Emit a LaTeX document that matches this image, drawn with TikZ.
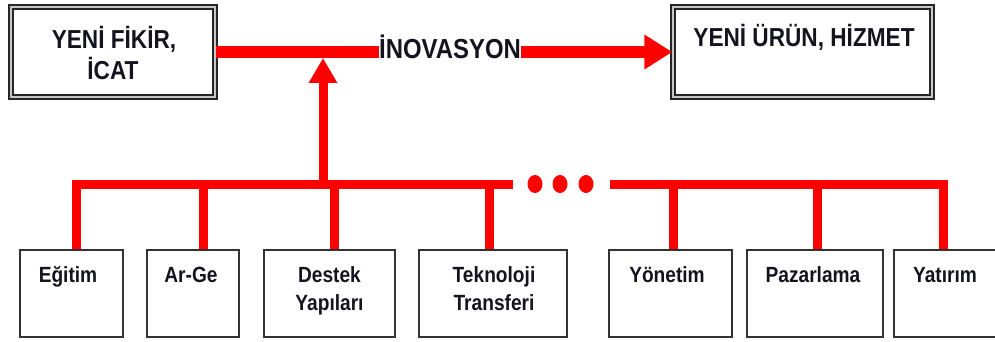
\documentclass[tikz,border=0pt]{standalone}
\usepackage{fontspec}
\setmainfont{Liberation Sans}
\newfontfamily\narrowsans[FakeStretch=0.87]{Liberation Sans}
\usetikzlibrary{arrows.meta}

\definecolor{flow}{RGB}{255,0,0}
\definecolor{ink}{RGB}{20,20,30}

\begin{document}
\begin{tikzpicture}[x=1pt,y=-1pt,
  framebox/.style={draw=black!85, line width=1.4pt, double=black!22,
    double distance=2.6pt, fill=white, inner sep=0pt,
    minimum height=90pt, minimum width=#1},
  itembox/.style={draw=black!80, line width=1.3pt, fill=white, inner sep=0pt,
    minimum height=87pt, minimum width=#1},
  headtext/.style={anchor=base, inner sep=0pt, text=ink,
    font=\narrowsans\bfseries\fontsize{26}{31}\selectfont},
  flowtext/.style={anchor=base, inner sep=0pt, text=ink,
    font=\narrowsans\bfseries\fontsize{27.5}{33}\selectfont},
  itemtext/.style={anchor=base, inner sep=0pt, text=ink,
    font=\narrowsans\bfseries\fontsize{22}{28}\selectfont},
  mainflow/.style={draw=flow, line width=12pt},
  bus/.style={draw=flow, line width=9pt, line join=miter},
]
\useasboundingbox (0,0) rectangle (995,342);
\clip (0,0) rectangle (995,342);
\fill[white] (0,0) rectangle (995,342);

% top: idea -> product
\node[framebox=204pt] (fikir) at (113,52) {};
\node[headtext] (fikir1) at (114,49) {YENİ FİKİR,};
\node[headtext] (fikir2) at (113,80) {İCAT};

\node[framebox=259pt] (urun) at (802.5,52) {};
\node[headtext] (urun1) at (804,47) {YENİ ÜRÜN, HİZMET};

\node[flowtext] (ino) at (450,58.5) {İNOVASYON};

\draw[mainflow] (fikir.east) -- (fikir.east -| ino.west);
\draw[mainflow, -{Triangle[length=28pt,width=33pt]}]
  (ino.east |- urun.west) -- (urun.west);

% bottom: contributing fields
\node[itembox=103pt] (egitim)  at (71.5,293.5) {};
\node[itembox=92pt]  (arge)    at (193,293.5)  {};
\node[itembox=131pt] (destek)  at (329.5,293.5) {};
\node[itembox=148pt] (tekno)   at (493,293.5)  {};
\node[itembox=123pt] (yonetim) at (670.5,293.5) {};
\node[itembox=136pt] (pazar)   at (815,293.5)  {};
\node[itembox=106pt] (yatirim) at (947,293.5)  {};

\node[itemtext] (egitimT)  at (68,282)    {Eğitim};
\node[itemtext] (argeT)    at (191,282)   {Ar-Ge};
\node[itemtext] (destekT1) at (329.5,282) {Destek};
\node[itemtext] (destekT2) at (329.5,310) {Yapıları};
\node[itemtext] (teknoT1)  at (494,282)   {Teknoloji};
\node[itemtext] (teknoT2)  at (494,310)   {Transferi};
\node[itemtext] (yonetimT) at (667,282)   {Yönetim};
\node[itemtext] (pazarT)   at (813,282)   {Pazarlama};
\node[itemtext] (yatirimT) at (945,282)   {Yatırım};

% collecting bus
\coordinate (b0) at (76,184);
\coordinate (b1) at (203,184);
\coordinate (b2) at (334,184);
\coordinate (b3) at (489,184);
\coordinate (gapL) at (513,184);
\coordinate (gapR) at (610,184);
\coordinate (b4) at (673,184);
\coordinate (b5) at (817,184);
\coordinate (b6) at (943,184);
\coordinate (hub) at (323,184);
\coordinate (hubtip) at (323,58);

\draw[bus] (b0 |- egitim.north) -- (b0) -- (gapL);
\draw[bus] (gapR) -- (b6) -- (b6 |- yatirim.north);
\draw[bus] (b1) -- (b1 |- arge.north);
\draw[bus] (b2) -- (b2 |- destek.north);
\draw[bus] (b3) -- (b3 |- tekno.north);
\draw[bus] (b4) -- (b4 |- yonetim.north);
\draw[bus] (b5) -- (b5 |- pazar.north);

\foreach \x in {535,560,586}
  \fill[flow] (\x,184) ellipse [x radius=7.5pt, y radius=9pt];

\draw[draw=flow, line width=9pt, -{Triangle[length=25pt,width=27pt]}]
  (hub) -- (hubtip);
\end{tikzpicture}
\end{document}
